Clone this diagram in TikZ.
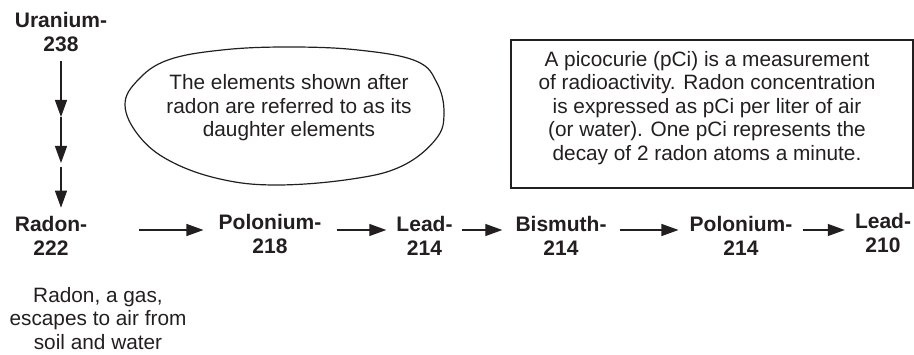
\documentclass[tikz,border=0pt]{standalone}
\usepackage{fontspec}
\setmainfont{Liberation Sans}
\usepackage{xcolor}
\usepackage{tikz}
\usetikzlibrary{arrows.meta,positioning,calc,shapes.geometric}
\definecolor{decayink}{HTML}{231F20}

\tikzset{
  isotope/.style={font=\fontsize{21}{24}\selectfont\bfseries, align=center, inner sep=0pt, text=decayink},
  note/.style={font=\fontsize{20.8}{23.4}\selectfont, align=center, inner sep=0pt, text=decayink},
  decay/.style={draw=decayink, line width=1.2pt, -{Triangle[length=17pt,width=12pt]}},
}

\begin{document}
\begin{tikzpicture}[x=1pt,y=-1pt]
  \useasboundingbox (0,0) rectangle (914,355);
  % isotopes of the chain
  \node[isotope] (u238) at (61,32) {Uranium-\\238};
  \node[isotope] (rn222) at (51,235.5) {Radon-\\222};
  \node[isotope] (po218) at (270,233.5) {Polonium-\\218};
  \node[isotope] (pb214) at (424.5,236) {Lead-\\214};
  \node[isotope] (bi214) at (561,236) {Bismuth-\\214};
  \node[isotope] (po214) at (741,236) {Polonium-\\214};
  \node[isotope] (pb210) at (883,233) {Lead-\\210};

  % uranium down to radon
  \coordinate (drop1) at (61,117);
  \coordinate (drop2) at (61,163);
  \draw[decay, shorten <=9pt] (u238.south) -- (drop1);
  \draw[decay] (drop1) -- (drop2);
  \draw[decay, shorten <=4pt, shorten >=8pt] (drop2) -- (drop2 |- rn222.north);

  % radon and its daughters
  \coordinate (rail) at (0,230);
  \draw[decay, shorten <=52pt, shorten >=15pt] (rn222.east |- rail) -- (po218.west |- rail);
  \draw[decay, shorten <=15pt, shorten >=10pt] (po218.east |- rail) -- (pb214.west |- rail);
  \draw[decay, shorten <=9pt, shorten >=13pt] (pb214.east |- rail) -- (bi214.west |- rail);
  \draw[decay, shorten <=13pt, shorten >=11pt] (bi214.east |- rail) -- (po214.west |- rail);
  \draw[decay, shorten <=10pt, shorten >=10pt] (po214.east |- rail) -- (pb210.west |- rail);

  % notes
  \draw[decayink, line width=1.2pt] plot[smooth cycle, tension=0.65] coordinates {
    (125,105) (138,80) (168,60) (222,50) (288,47) (358,50) (416,61) (437,83)
    (444,113) (436,139) (402,166) (352,179) (277,185) (220,179) (170,161) (139,136)};
  \node[note] (daughtertext) at (289,108) {The elements shown after\\radon are referred to as its\\daughter elements};

  \node[draw=decayink, line width=1.4pt, minimum width=402pt, minimum height=148pt,
        inner sep=0pt] (pcibox) at (712,114) {};
  \node[note] (pcitext) at (707,108) {A picocurie (pCi) is a measurement\\of radioactivity. Radon concentration\\is expressed as pCi per liter of air\\(or water). One pCi represents the\\decay of 2 radon atoms a minute.};

  \node[note] (gasnote) at (98,318.5) {Radon, a gas,\\escapes to air from\\soil and water};
\end{tikzpicture}
\end{document}
